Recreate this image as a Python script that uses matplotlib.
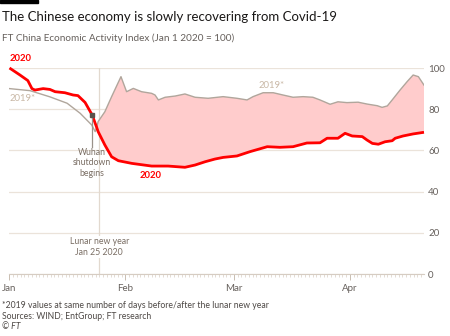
import matplotlib
matplotlib.use("Agg")
import matplotlib.pyplot as plt
import numpy as np

plt.rcParams['font.family'] = ['Lato', 'DejaVu Sans']

# days since Jan 1 2020
days_2020 = [0, 2.8, 4.9, 6.0, 6.8, 9.0, 10.8, 12.2, 14.8, 17.0, 18.3, 20.2, 22.1, 23.3,
             23.7, 25.5, 27.3, 29.1, 32.7, 38.0, 42.4, 46.9, 49.6, 52.3, 54.9, 57.1,
             60.8, 64.3, 68.9, 72.3, 75.8, 79.5, 83.0, 84.9, 87.8, 89.7, 91.6, 94.3,
             95.6, 97.0, 98.6, 100.4, 102.3, 103.1, 105.2, 107.9, 110.8]
vals_2020 = [100, 96.6, 93.9, 90, 89.3, 90, 89.6, 88.5, 88, 86.9, 86.6, 83.3, 77.2, 71.2,
             69.1, 62.6, 56.9, 55, 53.7, 52.4, 52.4, 51.8, 52.9, 54.5, 55.8, 56.6,
             57.3, 59.4, 61.8, 61.5, 61.8, 63.6, 63.7, 65.9, 65.9, 68.3, 67, 66.7,
             65, 63.4, 63, 64.2, 64.7, 65.9, 67, 68, 68.8]

days_2019 = [0, 5.5, 10.8, 15.4, 18.9, 20.2, 22.0, 22.9, 23.3, 23.7, 25.5, 27.3, 29.8,
             31.3, 33.1, 35.3, 38.0, 38.9, 39.8, 41.6, 44.3, 46.9, 49.6, 53.1, 57.1,
             60.8, 63.5, 65.1, 67.8, 70.5, 73.1, 75.8, 78.5, 81.1, 83.0, 85.7, 87.8,
             90.2, 93.2, 95.6, 98.3, 99.6, 101.0, 102.3, 104.4, 106.3, 107.9, 109.3, 110.8]
vals_2019 = [90, 89, 86, 82.9, 78, 75.6, 72.3, 69.1, 71.2, 74, 78.8, 86.1, 95.8,
             88.5, 90.1, 88.5, 87.7, 86.9, 84.5, 85.8, 86.4, 87.4, 85.8, 85.3, 86.1,
             85.3, 84.5, 86.1, 88, 88, 86.9, 85.8, 86.1, 85.8, 84.5, 82.4, 83.6,
             83.2, 83.4, 82.5, 81.7, 80.9, 81.6, 84.5, 89.3, 93.4, 96.6, 95.8, 91.7]

month_days = [0, 31, 60, 91]
month_labels = ['Jan', 'Feb', 'Mar', 'Apr']
y_ticks = [0, 20, 40, 60, 80, 100]
cross_day = 23.3
wuhan_day, wuhan_val = 22.1, 77.2
lunar_day = 24

RED = '#ff0000'
PINK = '#ffcccc'
GREY19 = '#b0a69c'
BEIGE = '#c9b8a6'
GRID = '#ebe3da'
TXT = '#66605c'
NOTE = '#7a6e64'

fig = plt.figure(figsize=(4.5, 3.36), dpi=100)
ax = fig.add_axes([0.0211, 0.1845, 0.9211, 0.6131])

d20 = np.array(days_2020); v20 = np.array(vals_2020)
d19 = np.array(days_2019); v19 = np.array(vals_2019)

# shaded gap where 2019 is above 2020
m19 = d19 >= cross_day
m20 = d20 >= cross_day
ax.fill(np.concatenate([d19[m19], d20[m20][::-1]]),
        np.concatenate([v19[m19], v20[m20][::-1]]),
        color=PINK, lw=0, zorder=2)

ax.axvline(lunar_day, color='#e2d9cf', lw=0.9, zorder=1)
ax.plot(d19, v19, color=GREY19, lw=1.0, zorder=3)
ax.plot(d20, v20, color=RED, lw=2.0, zorder=4, clip_on=False, solid_capstyle='butt')

# wuhan marker
ax.plot([wuhan_day, wuhan_day], [wuhan_val, 61.5], color='#9a928a', lw=0.9, zorder=5)
ax.plot(wuhan_day, wuhan_val, 's', ms=2.5, color='#5a524c', zorder=6)
ax.text(wuhan_day, 54, 'Wuhan\nshutdown\nbegins', ha='center', va='center',
        fontsize=6.3, color=NOTE, linespacing=1.25)
ax.text(lunar_day, 13.1, 'Lunar new year\nJan 25 2020', ha='center', va='center',
        fontsize=6.3, color=NOTE, linespacing=1.25, zorder=5,
        bbox=dict(facecolor='white', edgecolor='none', pad=0.5))

ax.text(0, 104.5, '2020', color=RED, fontsize=6.8, fontweight='bold', ha='left', va='center')
ax.text(0, 85.4, '2019*', color=BEIGE, fontsize=6.8, ha='left', va='center')
ax.text(37.7, 47.6, '2020', color=RED, fontsize=6.8, fontweight='bold', ha='center', va='center')
ax.text(70, 91.7, '2019*', color=BEIGE, fontsize=6.8, ha='center', va='center')

ax.set_xlim(0, 110.8)
ax.set_ylim(0, 100)
for s in ['top', 'left', 'right']:
    ax.spines[s].set_visible(False)
ax.spines['bottom'].set_color('#d6ccc2')
ax.spines['bottom'].set_linewidth(0.8)

ax.yaxis.tick_right()
ax.set_yticks(y_ticks)
ax.tick_params(axis='y', length=0, pad=3, labelsize=7, labelcolor=TXT)
ax.grid(axis='y', color=GRID, lw=0.9)
ax.set_axisbelow(True)

ax.set_xticks(month_days)
ax.set_xticklabels(month_labels)
ax.set_xticks(np.arange(0, 111), minor=True)
ax.tick_params(axis='x', which='major', length=4, width=0.7, color='#c9bdb1',
               pad=3, labelsize=7, labelcolor=TXT)
ax.tick_params(axis='x', which='minor', length=2, width=0.5, color='#d8cec4')

fig.patches.append(plt.Rectangle((0, 1 - 2.5 / 336), 38 / 450, 2.5 / 336,
                                 transform=fig.transFigure, color='black'))
fig.text(0.004, 0.938, 'The Chinese economy is slowly recovering from Covid-19',
         fontsize=9.5, color='#1a1817', va='baseline')
fig.text(0.004, 0.878, 'FT China Economic Activity Index (Jan 1 2020 = 100)',
         fontsize=7.2, color=TXT, va='baseline')
fig.text(0.004, 0.0893, '*2019 values at same number of days before/after the lunar new year',
         fontsize=6.2, color='#4d4845', va='center')
fig.text(0.004, 0.0595, 'Sources: WIND; EntGroup; FT research',
         fontsize=6.2, color='#4d4845', va='center')
fig.text(0.004, 0.0268, '© FT', fontsize=6.2, color='#4d4845', va='center', style='italic')

fig.savefig('out.png', dpi=100, facecolor='white')
